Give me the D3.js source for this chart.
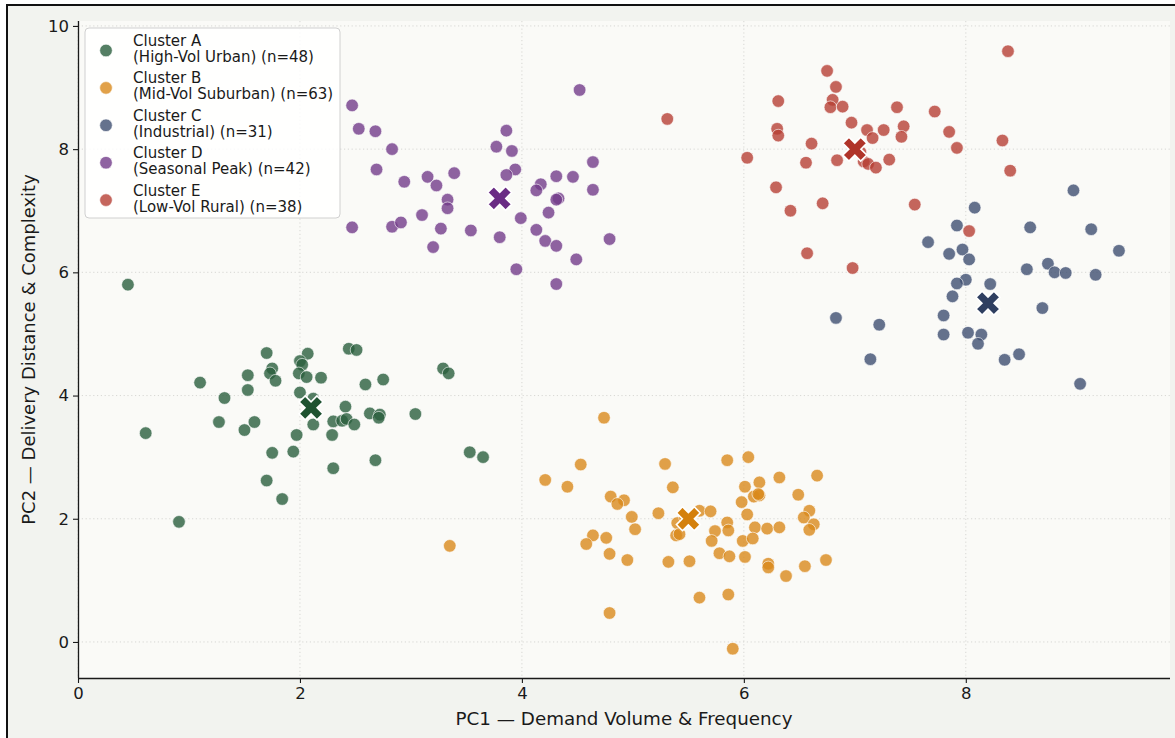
<!DOCTYPE html>
<html>
<head>
<meta charset="utf-8">
<script src="https://cdn.jsdelivr.net/npm/d3@7"></script>
<style>
  html, body { margin: 0; padding: 0; background: #ffffff; }
  svg { display: block; font-family: "DejaVu Sans", sans-serif; }
</style>
</head>
<body>
<svg id="chart" width="1175" height="738"></svg>
<script>
// ---- data -------------------------------------------------------------
const clusterNames = ["Cluster A", "Cluster B", "Cluster C", "Cluster D", "Cluster E"];
const clusterSegments = ["High-Vol Urban", "Mid-Vol Suburban", "Industrial", "Seasonal Peak", "Low-Vol Rural"];

// PCA scores [PC1, PC2] per delivery zone
const clusterA = [
  [0.45,5.80],[1.70,4.69],[2.07,4.68],[2.44,4.76],[2.51,4.74],[1.75,4.44],[1.73,4.36],[1.53,4.33],[1.78,4.24],[2.00,4.56],
  [2.02,4.50],[1.99,4.36],[2.06,4.30],[2.19,4.29],[1.10,4.21],[1.53,4.09],[1.32,3.96],[2.00,4.05],[2.12,3.95],[2.59,4.18],
  [2.75,4.26],[3.29,4.44],[3.34,4.36],[2.41,3.82],[2.63,3.71],[2.72,3.69],[2.71,3.64],[3.04,3.70],[2.30,3.58],[2.38,3.59],
  [2.42,3.62],[2.49,3.53],[2.12,3.53],[1.27,3.57],[1.59,3.57],[1.50,3.44],[1.97,3.36],[2.29,3.36],[0.61,3.39],[1.75,3.07],
  [1.94,3.09],[2.68,2.95],[2.30,2.82],[1.70,2.62],[1.84,2.32],[0.91,1.95],[3.53,3.08],[3.65,3.00]
];
const clusterB = [
  [4.74,3.64],[4.53,2.88],[4.41,2.52],[5.29,2.89],[5.36,2.51],[4.80,2.36],[4.92,2.30],[4.86,2.24],[4.99,2.03],[5.02,1.83],
  [4.64,1.73],[4.58,1.59],[4.76,1.69],[4.79,1.43],[4.95,1.33],[5.23,2.09],[5.32,1.30],[5.51,1.31],[5.39,1.73],[5.40,1.93],
  [5.60,2.13],[5.70,2.12],[5.85,2.95],[6.04,3.00],[6.01,2.52],[6.14,2.59],[6.09,2.36],[6.14,2.38],[5.98,2.27],[6.03,2.07],
  [6.32,2.67],[6.66,2.70],[6.49,2.39],[6.59,2.13],[6.54,2.02],[6.63,1.91],[6.59,1.82],[5.74,1.80],[5.85,1.94],[5.86,1.81],
  [5.71,1.64],[5.99,1.64],[6.10,1.86],[6.21,1.84],[6.32,1.86],[6.08,1.68],[5.78,1.44],[5.87,1.39],[6.01,1.38],[6.22,1.27],
  [6.22,1.21],[6.38,1.07],[6.55,1.23],[6.74,1.33],[5.60,0.72],[5.86,0.77],[4.79,0.47],[5.90,-0.11],[3.35,1.56],[4.21,2.63],
  [5.42,1.75],[5.47,2.02],[6.13,2.40]
];
const clusterC = [
  [8.97,7.33],[8.08,7.05],[8.58,6.73],[9.13,6.70],[9.38,6.35],[7.92,6.76],[7.66,6.49],[7.85,6.30],[7.97,6.37],[8.03,6.21],
  [8.55,6.05],[8.74,6.14],[8.80,6.00],[8.90,5.99],[9.17,5.96],[8.00,5.88],[7.92,5.82],[8.22,5.81],[7.88,5.61],[8.69,5.42],
  [6.83,5.26],[7.22,5.15],[7.80,5.30],[7.80,4.99],[8.02,5.02],[8.14,4.99],[8.11,4.84],[8.35,4.58],[8.48,4.67],[7.14,4.59],
  [9.03,4.19]
];
const clusterD = [
  [2.47,8.71],[2.53,8.33],[2.68,8.29],[2.83,8.00],[2.69,7.67],[2.94,7.47],[3.15,7.55],[3.23,7.41],[3.39,7.61],[3.33,7.18],
  [3.33,7.04],[3.10,6.93],[2.47,6.73],[2.83,6.74],[2.91,6.81],[3.27,6.71],[3.20,6.41],[3.54,6.68],[3.80,6.57],[3.95,6.05],
  [3.77,8.04],[3.86,8.30],[3.91,7.97],[3.94,7.67],[3.86,7.58],[3.99,6.88],[4.17,7.43],[4.13,7.33],[4.31,7.56],[4.46,7.55],
  [4.33,7.20],[4.31,7.18],[4.24,6.97],[4.13,6.69],[4.21,6.51],[4.31,6.43],[4.49,6.21],[4.31,5.81],[4.64,7.79],[4.64,7.34],
  [4.79,6.54],[4.52,8.96]
];
const clusterE = [
  [5.31,8.49],[6.75,9.27],[6.83,9.01],[6.80,8.80],[6.78,8.68],[6.89,8.69],[6.31,8.78],[6.30,8.33],[6.31,8.22],[6.97,8.43],
  [7.11,8.31],[7.16,8.18],[7.26,8.31],[7.38,8.68],[7.44,8.37],[7.42,8.20],[7.72,8.61],[7.85,8.28],[7.92,8.02],[8.38,9.59],
  [8.33,8.14],[8.40,7.65],[6.61,8.09],[6.56,7.78],[6.84,7.82],[7.08,7.80],[7.12,7.76],[7.19,7.70],[7.31,7.83],[6.03,7.86],
  [6.29,7.38],[6.42,7.00],[6.71,7.12],[7.54,7.10],[8.03,6.67],[6.57,6.31],[6.98,6.07],[7.05,7.95]
];

// cluster centres (PC1, PC2)
const centroidPC1 = [2.1, 5.5, 8.2, 3.8, 7.0];
const centroidPC2 = [3.8, 2.0, 5.5, 7.2, 8.0];

const xTicks = [0, 2, 4, 6, 8];
const yTicks = [0, 2, 4, 6, 8, 10];

const pointColors    = ["#2a5f3d", "#d98a1c", "#3f4f70", "#733c8a", "#b64035"];
const centroidColors = ["#1e5230", "#d4800c", "#2f3f60", "#6a2c84", "#b03429"];

// ---- layout ------------------------------------------------------------
const W = 1175, H = 738;
const plot = { left: 78, right: 1170, top: 21, bottom: 678 };

const svg = d3.select("#chart");

// figure background with framed edge
svg.append("rect").attr("x", 0).attr("y", 0).attr("width", W).attr("height", H).attr("fill", "#ffffff");
svg.append("rect")
  .attr("x", 7).attr("y", 5).attr("width", W + 20).attr("height", H + 20)
  .attr("fill", "#f2f3ef").attr("stroke", "#111").attr("stroke-width", 2);

// plot area
svg.append("rect")
  .attr("x", plot.left).attr("y", plot.top)
  .attr("width", plot.right - plot.left).attr("height", plot.bottom - plot.top)
  .attr("fill", "#fafaf7");

const x = d3.scaleLinear().domain([0, 9.84]).range([plot.left, plot.right]);
const y = d3.scaleLinear().domain([-0.585, 10.08]).range([plot.bottom, plot.top]);

// grid
const grid = svg.append("g").attr("stroke", "#d4d4d0").attr("stroke-width", 0.9)
  .attr("stroke-dasharray", "1.2,2.6");
grid.selectAll("line.gx").data(xTicks).join("line")
  .attr("x1", d => x(d)).attr("x2", d => x(d)).attr("y1", plot.top).attr("y2", plot.bottom);
grid.selectAll("line.gy").data(yTicks).join("line")
  .attr("y1", d => y(d)).attr("y2", d => y(d)).attr("x1", plot.left).attr("x2", plot.right);

// points
const clusters = [clusterA, clusterB, clusterC, clusterD, clusterE];
const pts = svg.append("g");
clusters.forEach((data, i) => {
  pts.append("g").selectAll("circle").data(data).join("circle")
    .attr("cx", d => x(d[0])).attr("cy", d => y(d[1])).attr("r", 6.3)
    .attr("fill", pointColors[i]).attr("fill-opacity", 0.8)
    .attr("stroke", "#ffffff").attr("stroke-width", 0.6);
});

// centroid markers: filled X
function xMarkerPath(cx, cy, L, t) {
  const base = [[t, L], [t, t], [L, t], [L, -t], [t, -t], [t, -L], [-t, -L], [-t, -t], [-L, -t], [-L, t], [-t, t], [-t, L]];
  const c = Math.SQRT1_2;
  const p = d3.path();
  base.forEach(([u, v], k) => {
    const px = cx + (u - v) * c, py = cy + (u + v) * c;
    if (k === 0) p.moveTo(px, py); else p.lineTo(px, py);
  });
  p.closePath();
  return p.toString();
}
const cents = svg.append("g");
cents.selectAll("path").data(d3.range(centroidPC1.length)).join("path")
  .attr("d", i => xMarkerPath(x(centroidPC1[i]), y(centroidPC2[i]), 12.6, 4.3))
  .attr("fill", i => centroidColors[i])
  .attr("stroke", "#ffffff").attr("stroke-width", 1.6).attr("stroke-linejoin", "miter");

// axes
const xAxis = svg.append("g").attr("transform", `translate(0,${plot.bottom})`)
  .call(d3.axisBottom(x).tickValues(xTicks).tickFormat(d3.format("d")).tickSize(5).tickPadding(4));
const yAxis = svg.append("g").attr("transform", `translate(${plot.left},0)`)
  .call(d3.axisLeft(y).tickValues(yTicks).tickFormat(d3.format("d")).tickSize(5).tickPadding(4));
[xAxis, yAxis].forEach(a => {
  a.select(".domain").attr("stroke", "#1a1a1a").attr("stroke-width", 1.3);
  a.selectAll(".tick line").attr("stroke", "#1a1a1a").attr("stroke-width", 1.1);
  a.selectAll(".tick text").attr("fill", "#1a1a1a").style("font-size", "16.5px")
    .style("font-family", "'DejaVu Sans', sans-serif");
});
// spines span the full plot extent
xAxis.select(".domain").attr("d", `M${plot.left},0.5H${plot.right}`);
yAxis.select(".domain").attr("d", `M0.5,${plot.bottom}V${plot.top}`);

svg.append("text")
  .attr("x", (plot.left + plot.right) / 2).attr("y", 725)
  .attr("text-anchor", "middle").attr("fill", "#1a1a1a").style("font-size", "18.3px")
  .text("PC1 — Demand Volume & Frequency");
svg.append("text")
  .attr("transform", `translate(35,${(plot.top + plot.bottom) / 2}) rotate(-90)`)
  .attr("text-anchor", "middle").attr("fill", "#1a1a1a").style("font-size", "18px")
  .text("PC2 — Delivery Distance & Complexity");

// legend
const leg = svg.append("g");
leg.append("rect")
  .attr("x", 85).attr("y", 28).attr("width", 255).attr("height", 190).attr("rx", 4)
  .attr("fill", "#ffffff").attr("fill-opacity", 0.85)
  .attr("stroke", "#d0d0d0").attr("stroke-width", 1);
clusterNames.forEach((name, i) => {
  const cy = 50.5 + i * 37.4;
  leg.append("circle").attr("cx", 106).attr("cy", cy).attr("r", 6.3)
    .attr("fill", pointColors[i]).attr("fill-opacity", 0.8)
    .attr("stroke", "#ffffff").attr("stroke-width", 0.6);
  const t = leg.append("text").attr("fill", "#1a1a1a").style("font-size", "15px");
  t.append("tspan").attr("x", 133).attr("y", cy - 4.5).text(name);
  t.append("tspan").attr("x", 133).attr("y", cy + 11.5)
    .text(`(${clusterSegments[i]}) (n=${clusters[i].length})`);
});
</script>
</body>
</html>
